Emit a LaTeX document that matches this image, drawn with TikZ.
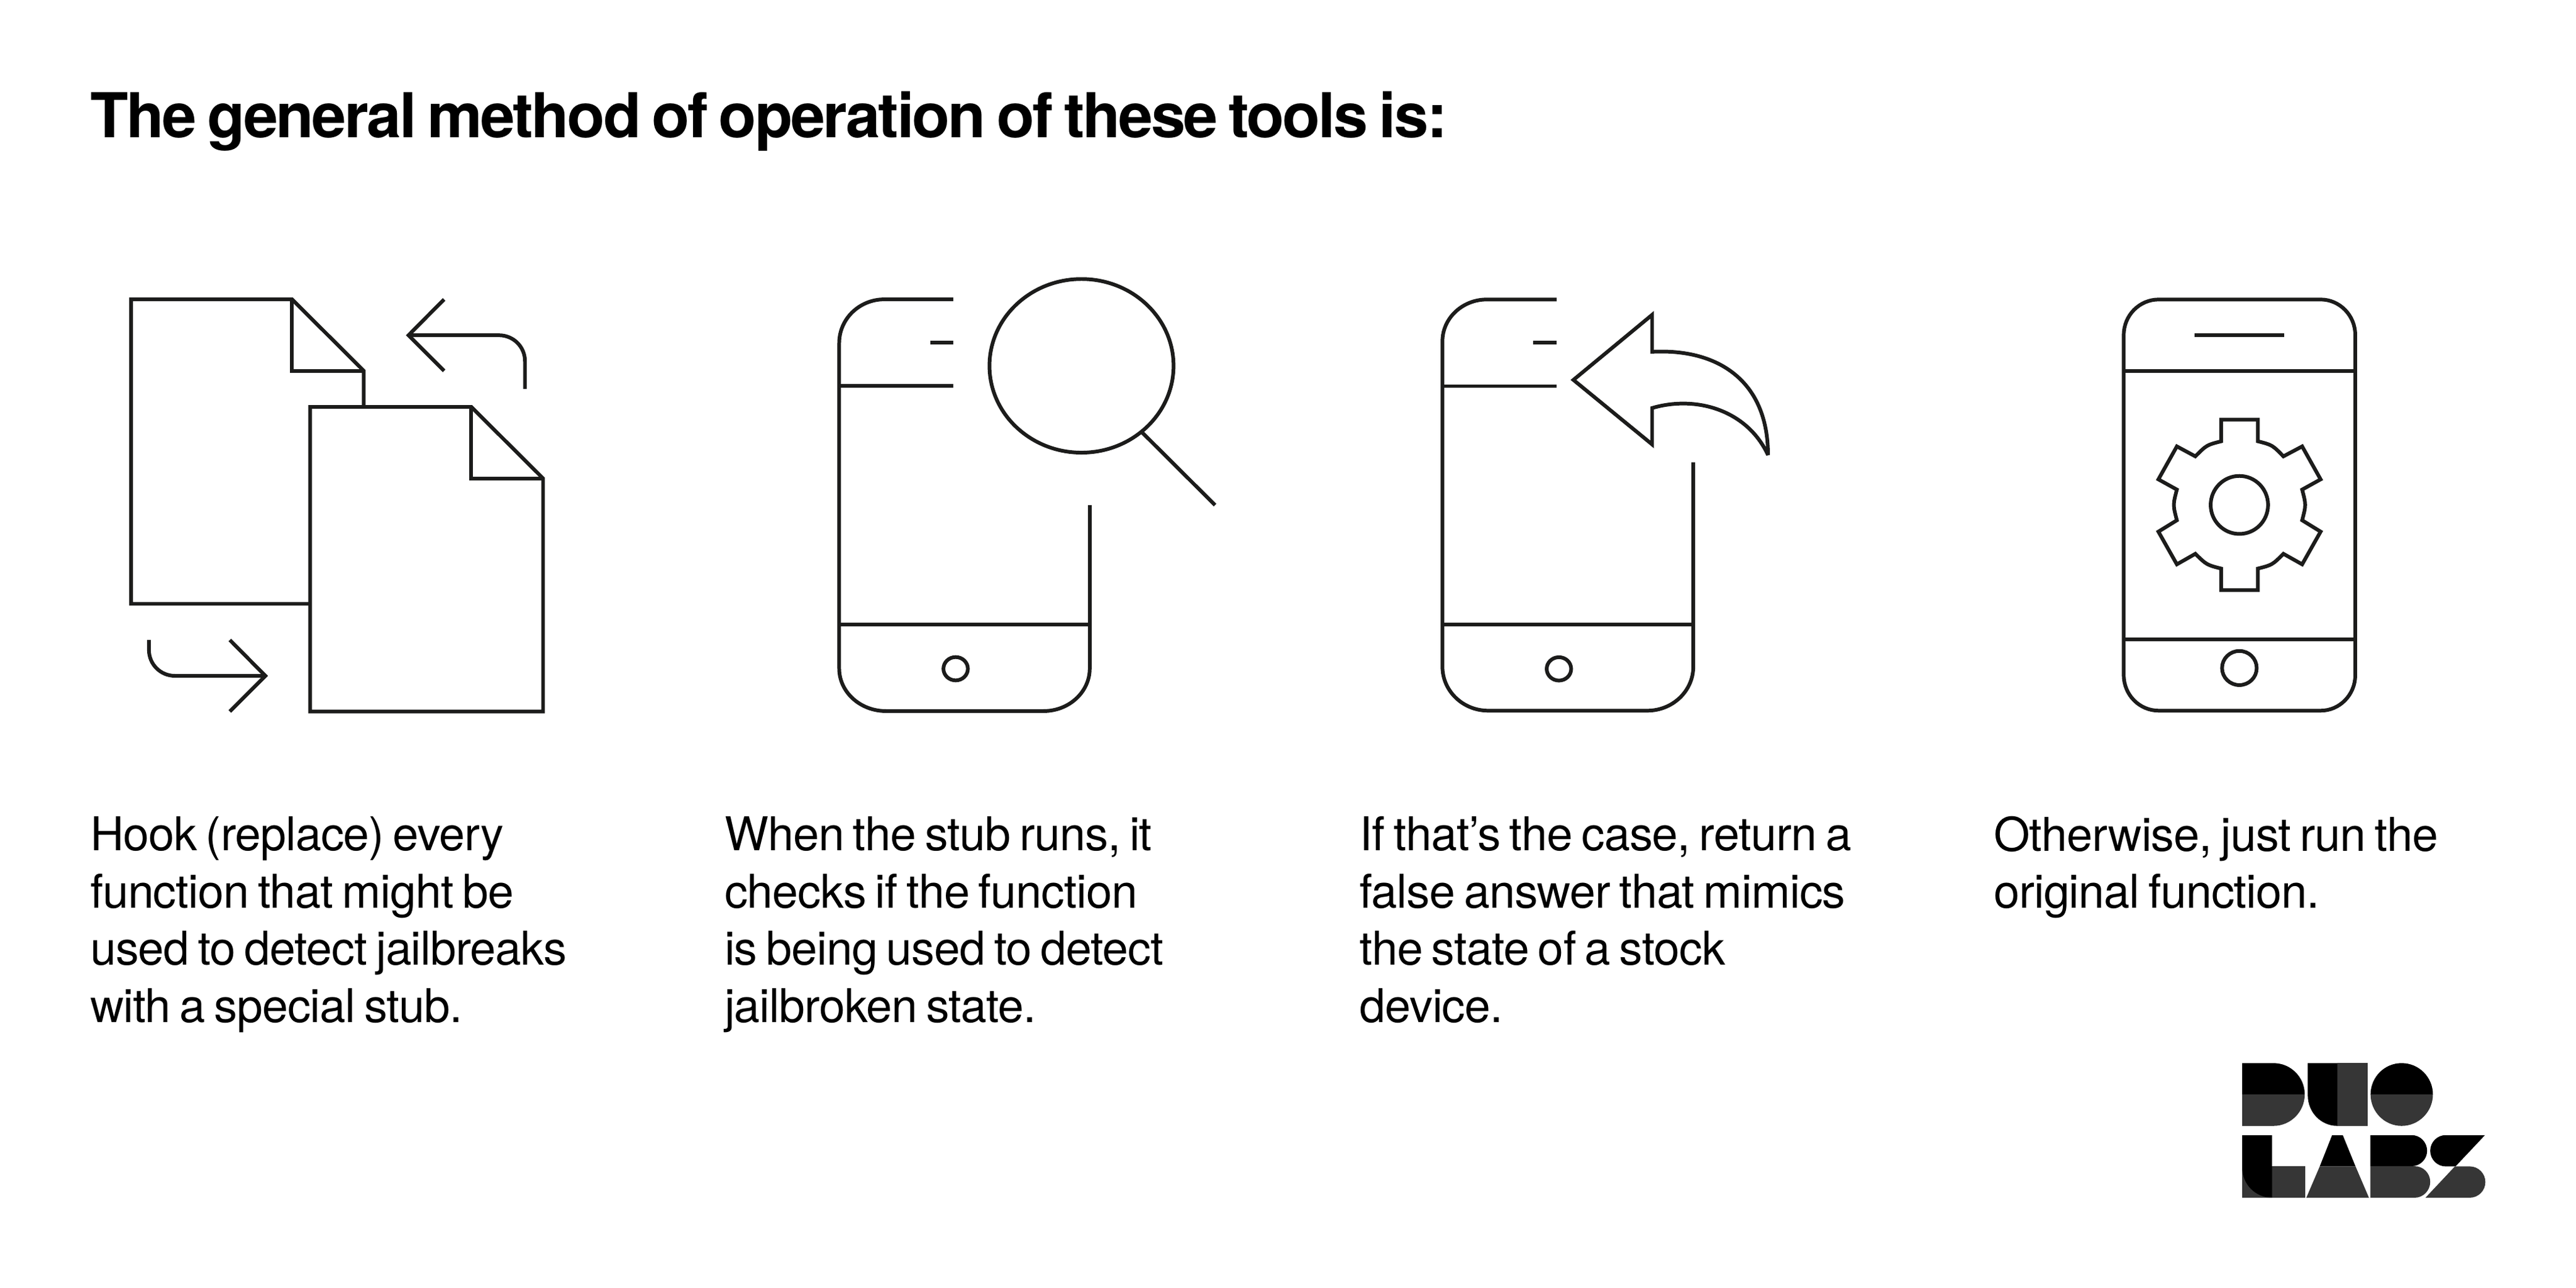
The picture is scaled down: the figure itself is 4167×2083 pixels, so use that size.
\documentclass[tikz,border=0pt]{standalone}
\usepackage{fontspec}
\setmainfont{TeX Gyre Heros}
\newfontfamily\bodyfont[LetterSpace=-1.2,WordSpace=0.7]{TeX Gyre Heros}
\newfontfamily\titlefont[LetterSpace=-3.05,WordSpace=0.7,BoldFont={TeX Gyre Heros Bold}]{TeX Gyre Heros}
\definecolor{ink}{HTML}{1C1C1B}
\definecolor{logogray}{HTML}{363636}
\tikzset{
  icon/.style={draw=ink,line width=1.7pt,line join=miter,miter limit=3,fill=none},
  body/.style={anchor=base west,inner sep=0pt,outer sep=0pt,text=black,align=left,font=\fontsize{21.4pt}{26.3pt}\selectfont\bodyfont},
  headline/.style={anchor=base west,inner sep=0pt,outer sep=0pt,text=black,font=\fontsize{28.45pt}{34pt}\selectfont\titlefont\bfseries},
  lk/.style={fill=black,draw=none},
  lg/.style={fill=logogray,draw=none},
  zoomed/.style={x=0.004593cm,y=-0.004593cm}
}
\begin{document}
\begin{tikzpicture}[x=0.01cm,y=-0.01cm]
\useasboundingbox (0,0) rectangle (4167,2083);
\fill[white] (0,0) rectangle (4167,2083);
\node[headline] (title) at (146,222.7) {The general method of operation of these tools is:};
% icon 1
\begin{scope}[shift={(180,430)},x=0.004785cm,y=-0.004785cm]
\draw[icon] (671,1140) -- (67,1140) -- (67,113) -- (610,113) -- (852,354) -- (852,476);
\draw[icon] (610,113) -- (610,354) -- (852,354);
\draw[icon] (671,476) -- (1215,476) -- (1457,717) -- (1457,1503) -- (671,1503) -- cycle;
\draw[icon] (1215,476) -- (1215,717) -- (1457,717);
\draw[icon] (1396,415) -- (1396,322) .. controls (1396,273) and (1357,234) .. (1308,234) -- (1003,234);
\draw[icon] (1123,113) -- (1003,234) -- (1123,354);
\draw[icon] (127,1262) -- (127,1295) .. controls (127,1344) and (166,1383) .. (215,1383) -- (520,1383);
\draw[icon] (400,1262) -- (520,1383) -- (400,1503);
\end{scope}
% icon 2
\begin{scope}[shift={(1340,440)},zoomed]
\draw[icon] (440,96) -- (197,96) .. controls (109,96) and (38,165) .. (38,250) -- (38,1395) .. controls (38,1478) and (112,1545) .. (203,1545) -- (757,1545) .. controls (847,1545) and (920,1478) .. (920,1395) -- (920,820);
\draw[icon] (358,249) -- (440,249);
\draw[icon] (38,401) -- (440,401);
\draw[icon] (38,1240) -- (920,1240);
\draw[icon] (448,1396) ellipse [x radius=43,y radius=41];
\draw[icon] (891,330) ellipse [x radius=324,y radius=305.5];
\draw[icon] (1105,565) -- (1361,820);
\end{scope}
% icon 3
\begin{scope}[shift={(2320,460)},zoomed]
\draw[icon] (431,53) -- (185,53) .. controls (99,53) and (29,119) .. (29,200) -- (29,1345) .. controls (29,1431) and (101,1500) .. (190,1500) -- (750,1500) .. controls (839,1500) and (912,1431) .. (912,1345) -- (912,626);
\draw[icon] (349,205) -- (431,205);
\draw[icon] (29,358) -- (431,358);
\draw[icon] (29,1196) -- (912,1196);
\draw[icon] (439,1353) ellipse [x radius=43,y radius=41];
\draw[icon] (490,336) -- (767,107) -- (767,237) .. controls (1000,225) and (1175,340) .. (1175,600) .. controls (1100,440) and (920,390) .. (767,435) -- (767,563) -- cycle;
\end{scope}
% icon 4
\begin{scope}[shift={(3400,460)},zoomed]
\draw[icon] (200,53) -- (770,53) .. controls (837,53) and (892,109) .. (892,178) -- (892,1375) .. controls (892,1444) and (837,1500) .. (770,1500) -- (200,1500) .. controls (132,1500) and (77,1444) .. (77,1375) -- (77,178) .. controls (77,109) and (132,53) .. (200,53) -- cycle;
\draw[icon] (327,178) -- (641,178);
\draw[icon] (77,304) -- (892,304);
\draw[icon] (77,1249) -- (892,1249);
\draw[icon] (484,1350) ellipse [x radius=61,y radius=60];
\draw[icon] (420,552) -- (420,476) -- (549,476) -- (549,552) .. controls (600,565) .. (639,605) -- (705,570) -- (770,686) -- (705,722) .. controls (719,776) .. (705,830) -- (770,870) -- (705,985) -- (639,948) .. controls (600,987) .. (549,1000) -- (549,1076) -- (420,1076) -- (420,1000) .. controls (369,987) .. (329,948) -- (264,985) -- (199,870) -- (264,830) .. controls (250,776) .. (264,722) -- (199,686) -- (264,570) -- (329,605) .. controls (369,565) .. (420,552) -- cycle;
\draw[icon] (484,776) ellipse [x radius=101,y radius=102];
\end{scope}
% texts
\node[body] (t1) at (146,1653.3) {Hook (replace) every\\function that might be\\used to detect jailbreaks\\with a special stub.};
\node[body] (t2) at (1172,1653.3) {When the stub runs, it\\checks if the function\\is being used to detect\\jailbroken state.};
\node[body] (t3) at (2199.5,1653.3) {If that’s the case, return a\\false answer that mimics\\the state of a stock\\device.};
\node[body] (t4) at (3225,1468.7) {Otherwise, just run the\\original function.};
% logo
\begin{scope}[shift={(3600,1700)},x=0.003333cm,y=-0.003333cm]
\fill[lk] (81,58) -- (233,58) .. controls (317,58) and (385,126) .. (385,210) -- (81,210) -- cycle;
\fill[lg] (81,210) -- (385,210) .. controls (385,294) and (317,363) .. (233,363) -- (81,363) -- cycle;
\fill[lk] (400,58) -- (543,58) -- (543,363) .. controls (464,363) and (400,297) .. (400,215) -- cycle;
\fill[lg] (543,58) rectangle (690,363);
\fill[lk] (705,210) .. controls (705,126) and (773,58) .. (856,58) .. controls (940,58) and (1008,126) .. (1008,210) -- cycle;
\fill[lg] (705,210) .. controls (705,294) and (773,363) .. (856,363) .. controls (940,363) and (1008,294) .. (1008,210) -- cycle;
\fill[lg] (81,560) rectangle (386,712);
\fill[lk] (81,408) -- (226,408) -- (226,712) .. controls (146,712) and (81,647) .. (81,565) -- cycle;
\fill[lk] (518,408) -- (570,408) -- (632,560) -- (458,560) -- cycle;
\fill[lg] (458,560) -- (632,560) -- (697,712) -- (393,712) -- cycle;
\fill[lk] (704,408) -- (905,408) .. controls (946,408) and (980,442) .. (980,484) .. controls (980,525) and (946,559) .. (905,559) -- (704,559) -- cycle;
\fill[lg] (704,559) -- (920,559) .. controls (961,559) and (995,593) .. (995,635) .. controls (995,677) and (961,712) .. (920,712) -- (704,712) -- cycle;
\fill[lk] (1070,408) -- (1261,408) -- (1118,560) -- (1070,560) .. controls (1029,560) and (995,526) .. (995,484) .. controls (995,442) and (1029,408) .. (1070,408) -- cycle;
\fill[lg] (1115,560) -- (1187,560) .. controls (1229,560) and (1263,594) .. (1263,636) .. controls (1263,678) and (1229,712) .. (1187,712) -- (972,712) -- cycle;
\end{scope}
\end{tikzpicture}
\end{document}
